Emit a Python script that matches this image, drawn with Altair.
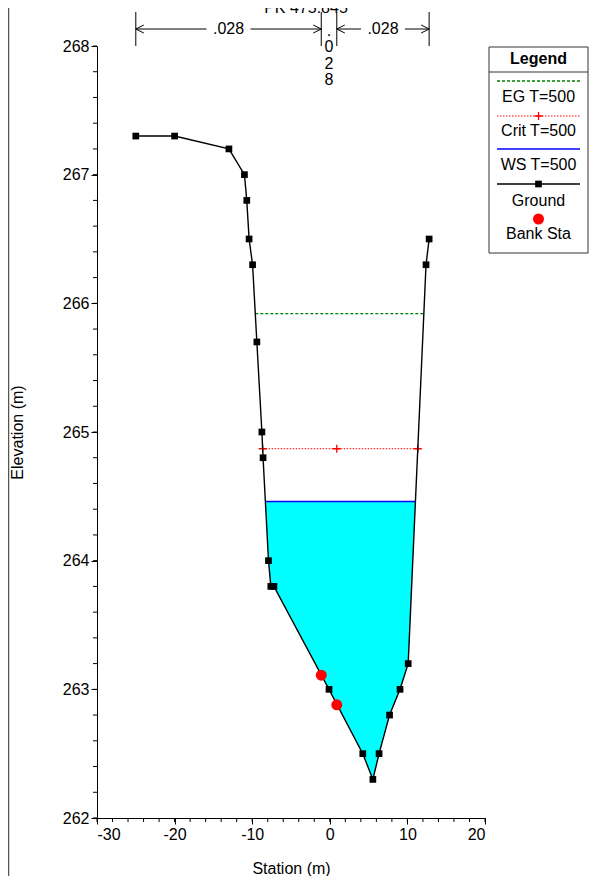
import altair as alt
import pandas as pd
import numpy as np

# ---- data ----
ground_sta = [-25.0, -20.0, -13.0, -11.0, -10.7, -10.4, -9.95, -9.4, -8.75, -8.6, -7.9, -7.6, -7.2,
              -0.1, 4.25, 5.55, 6.35, 7.7, 9.05, 10.1, 12.4, 12.8]
ground_elev = [267.3, 267.3, 267.2, 267.0, 266.8, 266.5, 266.3, 265.7, 265.0, 264.8, 264.0, 263.8, 263.8,
               263.0, 262.5, 262.3, 262.5, 262.8, 263.0, 263.2, 266.3, 266.5]
bank_sta = [-1.1, 0.9]
bank_elev = [263.11, 262.88]
ws_elev = 264.46
crit_elev = 264.87
eg_elev = 265.92
n_values = [".028", ".028", ".028"]
x_ticks = [-30, -20, -10, 0, 10, 20]
y_ticks = [262, 263, 264, 265, 266, 267, 268]
legend_labels = ["EG T=500", "Crit T=500", "WS T=500", "Ground", "Bank Sta"]
title_text = "PK 475.845"

W, H = 388, 772
XMIN, XMAX = -30, 20
YMIN, YMAX = 262, 268
PXU = W / (XMAX - XMIN)
FONT = "Liberation Sans"


def crossings(level):
    xs = []
    for i in range(len(ground_sta) - 1):
        e0, e1 = ground_elev[i], ground_elev[i + 1]
        if (e0 - level) * (e1 - level) < 0:
            t = (level - e0) / (e1 - e0)
            xs.append(ground_sta[i] + t * (ground_sta[i + 1] - ground_sta[i]))
    return xs[0], xs[-1]


xscale = alt.Scale(domain=[XMIN, XMAX], nice=False, zero=False)
yscale = alt.Scale(domain=[YMIN, YMAX], nice=False, zero=False)
xaxis = alt.Axis(values=x_ticks, labelExpr="'' + datum.value", title="Station (m)", grid=False,
                 tickSize=6, labelPadding=2, titlePadding=18)
yaxis = alt.Axis(values=y_ticks, labelExpr="'' + datum.value", title="Elevation (m)", grid=False,
                 tickSize=6, labelPadding=2, titlePadding=37)


def X(f, **kw):
    return alt.X(f, type="quantitative", scale=xscale, axis=xaxis, **kw)


def Y(f, **kw):
    return alt.Y(f, type="quantitative", scale=yscale, axis=yaxis, **kw)


ground = pd.DataFrame({"sta": ground_sta, "elev": ground_elev, "i": range(len(ground_sta))})
banks = pd.DataFrame({"sta": bank_sta, "elev": bank_elev})

# water fill
wl, wr = crossings(ws_elev)
inside = [(s, e) for s, e in zip(ground_sta, ground_elev) if wl < s < wr]
area_df = pd.DataFrame([(wl, ws_elev)] + inside + [(wr, ws_elev)], columns=["sta", "elev"])
area_df["top"] = ws_elev

cl, cr = crossings(crit_elev)
el, er = crossings(eg_elev)

lines_df = pd.DataFrame({
    "x": [wl, cl, el], "x2": [wr, cr, er], "y": [ws_elev, crit_elev, eg_elev],
    "k": ["WS", "Crit", "EG"]})

area = alt.Chart(area_df).mark_area(color="#00FFFF", opacity=1).encode(
    x=X("sta"), y=Y("elev"), y2="top")

ws_line = alt.Chart(lines_df[lines_df.k == "WS"]).mark_rule(color="#0000FF", strokeWidth=1.5).encode(
    x=X("x"), x2="x2", y=Y("y"))
crit_line = alt.Chart(lines_df[lines_df.k == "Crit"]).mark_rule(
    color="#FF0000", strokeWidth=1, strokeDash=[1.5, 1.5]).encode(x=X("x"), x2="x2", y=Y("y"))
eg_line = alt.Chart(lines_df[lines_df.k == "EG"]).mark_rule(
    color="#008000", strokeWidth=1.3, strokeDash=[3, 2]).encode(x=X("x"), x2="x2", y=Y("y"))

PLUS = "M-1,0L1,0M0,-1L0,1"
crit_pts = pd.DataFrame({"sta": [cl, bank_sta[1], cr], "elev": [crit_elev] * 3})
crit_marks = alt.Chart(crit_pts).mark_point(shape=PLUS, size=64, color="#FF0000", strokeWidth=1.3,
                                            filled=False, opacity=1).encode(x=X("sta"), y=Y("elev"))

ground_line = alt.Chart(ground).mark_line(color="black", strokeWidth=1.4).encode(
    x=X("sta"), y=Y("elev"), order="i")
ground_pts = alt.Chart(ground).mark_point(shape="square", filled=True, size=45, color="black",
                                          opacity=1).encode(x=X("sta"), y=Y("elev"))
bank_pts = alt.Chart(banks).mark_point(shape="circle", filled=True, size=121, color="#FF0000",
                                       opacity=1).encode(x=X("sta"), y=Y("elev"))

# minor ticks
xminor = pd.DataFrame({"sta": np.arange(XMIN, XMAX + 0.01, 2.0)})
xminor_marks = alt.Chart(xminor).mark_rule(color="black", strokeWidth=1).encode(
    x=X("sta"), y=alt.value(H), y2=alt.value(H + 4))
yminor = pd.DataFrame({"elev": np.round(np.arange(YMIN, YMAX + 0.001, 0.2), 2)})
yminor_marks = alt.Chart(yminor).mark_rule(color="black", strokeWidth=1).encode(
    y=Y("elev"), x=alt.value(0), x2=alt.value(-4))

# Manning's n annotations on top
left_end, right_end = ground_sta[0], ground_sta[-1]
vlines = pd.DataFrame({"sta": [left_end, bank_sta[0], bank_sta[1], right_end]})
vline_marks = alt.Chart(vlines).mark_rule(color="black", strokeWidth=1).encode(
    x=X("sta"), y=alt.value(-34), y2=alt.value(0))
midl = (left_end + bank_sta[0]) / 2
midr = (bank_sta[1] + right_end) / 2
midc = (bank_sta[0] + bank_sta[1]) / 2
gap = 22 / PXU
segs = pd.DataFrame({"x": [left_end, midl + gap, bank_sta[1], midr + gap],
                     "x2": [midl - gap, bank_sta[0], midr - gap, right_end]})
seg_marks = alt.Chart(segs).mark_rule(color="black", strokeWidth=1).encode(
    x=X("x"), x2="x2", y=alt.value(-17))
LARROW = "M0,0L2,-1M0,0L2,1"
RARROW = "M0,0L-2,-1M0,0L-2,1"
la = alt.Chart(pd.DataFrame({"sta": [left_end, bank_sta[1]]})).mark_point(
    shape=LARROW, size=64, color="black", filled=False, strokeWidth=1, opacity=1).encode(
    x=X("sta"), y=alt.value(-17))
ra = alt.Chart(pd.DataFrame({"sta": [bank_sta[0], right_end]})).mark_point(
    shape=RARROW, size=64, color="black", filled=False, strokeWidth=1, opacity=1).encode(
    x=X("sta"), y=alt.value(-17))
ntext = alt.Chart(pd.DataFrame({"sta": [midl, midr], "t": [n_values[0], n_values[2]]})).mark_text(
    font=FONT, fontSize=16, color="black", baseline="middle").encode(
    x=X("sta"), y=alt.value(-17), text="t:N")
ctext = alt.Chart(pd.DataFrame({"sta": [midc], "t": ["\n".join(list(n_values[1]))]})).mark_text(
    font=FONT, fontSize=16, color="black", baseline="middle", lineBreak="\n", lineHeight=16.5).encode(
    x=X("sta"), y=alt.value(-15.5), text="t:N")
title_mark = alt.Chart(pd.DataFrame({"t": [title_text]})).mark_text(
    font=FONT, fontSize=16, color="black", baseline="alphabetic").encode(
    x=alt.value(209), y=alt.value(-33), text="t:N")

# legend (drawn box)
one = pd.DataFrame({"a": [0]})
LX0, LX1 = 392, 491
LXC = (LX0 + LX1) / 2
box = alt.Chart(one).mark_rect(fill="white", stroke="#333333", strokeWidth=1).encode(
    x=alt.value(LX0), x2=alt.value(LX1), y=alt.value(1), y2=alt.value(207))
sep = alt.Chart(one).mark_rule(color="#333333", strokeWidth=1).encode(
    x=alt.value(LX0), x2=alt.value(LX1), y=alt.value(26))
leg_title = alt.Chart(one).mark_text(font=FONT, fontSize=16, fontWeight="bold", color="black",
                                     baseline="middle").encode(
    x=alt.value(LXC), y=alt.value(12.5), text=alt.value("Legend"))
leg_text = alt.Chart(pd.DataFrame({"t": legend_labels, "py": [51, 85, 119, 155, 188]})).mark_text(
    font=FONT, fontSize=16, color="black", baseline="middle").encode(
    x=alt.value(LXC), y=alt.Y("py:Q", scale=None), text="t:N")
lx1, lx2 = LX0 + 8, LX1 - 8
leg_eg = alt.Chart(one).mark_rule(color="#008000", strokeWidth=1.3, strokeDash=[3, 2]).encode(
    x=alt.value(lx1), x2=alt.value(lx2), y=alt.value(35))
leg_crit = alt.Chart(one).mark_rule(color="#FF0000", strokeWidth=1, strokeDash=[1.5, 1.5]).encode(
    x=alt.value(lx1), x2=alt.value(lx2), y=alt.value(70))
leg_crit_pt = alt.Chart(one).mark_point(shape=PLUS, size=64, color="#FF0000", strokeWidth=1.3,
                                        filled=False, opacity=1).encode(
    x=alt.value(LXC), y=alt.value(70))
leg_ws = alt.Chart(one).mark_rule(color="#0000FF", strokeWidth=1.5).encode(
    x=alt.value(lx1), x2=alt.value(lx2), y=alt.value(103))
leg_gr = alt.Chart(one).mark_rule(color="black", strokeWidth=1.4).encode(
    x=alt.value(lx1), x2=alt.value(lx2), y=alt.value(138))
leg_gr_pt = alt.Chart(one).mark_point(shape="square", filled=True, size=45, color="black",
                                      opacity=1).encode(x=alt.value(LXC), y=alt.value(138))
leg_bank = alt.Chart(one).mark_point(shape="circle", filled=True, size=121, color="#FF0000",
                                     opacity=1).encode(x=alt.value(LXC), y=alt.value(173))

frame = alt.Chart(one).mark_rule(color="#555555", strokeWidth=1.5).encode(
    x=alt.value(-88.5), y=alt.value(-38), y2=alt.value(830))

chart = alt.layer(
    area, ws_line, crit_line, eg_line, crit_marks, ground_line, ground_pts, bank_pts,
    xminor_marks, yminor_marks, vline_marks, seg_marks, la, ra, ntext, ctext, title_mark,
    box, sep, leg_title, leg_text, leg_eg, leg_crit, leg_crit_pt, leg_ws, leg_gr, leg_gr_pt, leg_bank,
    frame
).properties(
    width=W, height=H,
    autosize=alt.AutoSizeParams(type="none"),
    padding={"left": 89, "top": 38, "right": 104, "bottom": 58},
).configure_view(stroke=None).configure_axis(
    labelFont=FONT, titleFont=FONT, labelFontSize=16, titleFontSize=16, titleFontWeight="normal",
    labelColor="black", titleColor="black", domainColor="black", tickColor="black",
    domainWidth=1, tickWidth=1
)

chart.save("out.html", embed_options={"renderer": "svg", "actions": False})
